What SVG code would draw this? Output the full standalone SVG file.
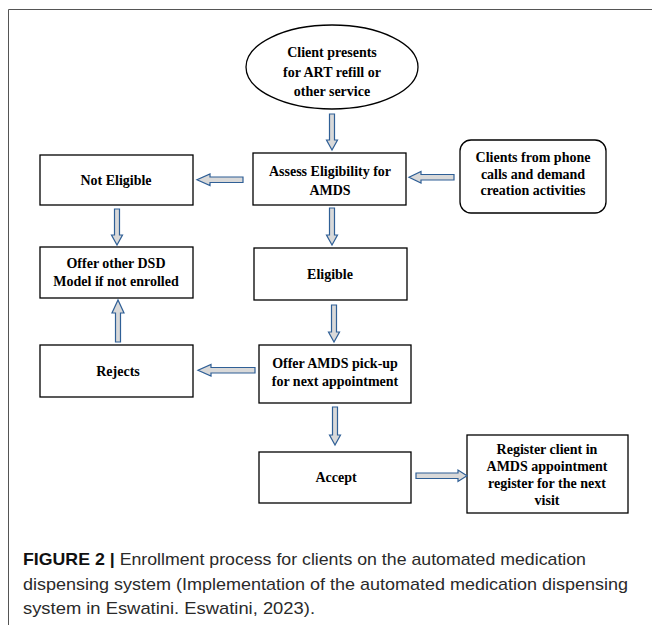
<svg xmlns="http://www.w3.org/2000/svg" width="652" height="625" viewBox="0 0 652 625">
<style>
.box{fill:#fff;stroke:#000;stroke-width:1.3}
.t{font-family:"Liberation Serif","Times New Roman",serif;font-weight:bold;font-size:14px;fill:#000;text-anchor:middle}
.arr{fill:#d9d9d9;stroke:#2f5f96;stroke-width:1.2;stroke-linejoin:miter}
.cap{font-family:"Liberation Sans",Arial,sans-serif;font-size:17px;fill:#2a2a2a}
</style>
<rect x="0" y="0" width="652" height="625" fill="#fff"/>
<path d="M8.5 625 V9.5 H652" fill="none" stroke="#555" stroke-width="1"/>

<g id="n-client">
<ellipse cx="332" cy="67" rx="86" ry="42" class="box"/>
<text class="t" x="332" y="57">Client presents</text>
<text class="t" x="332" y="77">for ART refill or</text>
<text class="t" x="332" y="96">other service</text>
</g>
<g id="n-assess">
<rect x="253" y="153" width="153" height="52" class="box"/>
<text class="t" x="330" y="176">Assess Eligibility for</text>
<text class="t" x="330" y="195">AMDS</text>
</g>
<g id="n-noteligible">
<rect x="40" y="155" width="153" height="50" class="box"/>
<text class="t" x="116" y="185">Not Eligible</text>
</g>
<g id="n-phone">
<rect x="460" y="140" width="146" height="73" rx="11" class="box"/>
<text class="t" x="533" y="162">Clients from phone</text>
<text class="t" x="533" y="179">calls and demand</text>
<text class="t" x="533" y="195">creation activities</text>
</g>
<g id="n-eligible">
<rect x="254" y="248" width="153" height="52" class="box"/>
<text class="t" x="330" y="279">Eligible</text>
</g>
<g id="n-offerother">
<rect x="40" y="247" width="153" height="51" class="box"/>
<text class="t" x="116" y="268">Offer other DSD</text>
<text class="t" x="116" y="286">Model if not enrolled</text>
</g>
<g id="n-offeramds">
<rect x="259" y="345" width="152" height="58" class="box"/>
<text class="t" x="335" y="368">Offer AMDS pick-up</text>
<text class="t" x="335" y="386">for next appointment</text>
</g>
<g id="n-rejects">
<rect x="40" y="345" width="153" height="52" class="box"/>
<text class="t" x="118" y="376">Rejects</text>
</g>
<g id="n-accept">
<rect x="259" y="452" width="152" height="51" class="box"/>
<text class="t" x="336" y="482">Accept</text>
</g>
<g id="n-register">
<rect x="467" y="435" width="161" height="78" class="box"/>
<text class="t" x="547" y="454">Register client in</text>
<text class="t" x="547" y="471">AMDS appointment</text>
<text class="t" x="547" y="488">register for the next</text>
<text class="t" x="547" y="505">visit</text>
</g>

<g id="connectors">
<polygon class="arr" points="329.5,114 334.5,114 334.5,140 337.5,140 332,150 326.5,140 329.5,140"/>
<polygon class="arr" points="243,177 243,182.5 210,182.5 210,185.5 197,179.8 210,174 210,177"/>
<polygon class="arr" points="454,174.5 454,180 421,180 421,183 409,177.3 421,171.5 421,174.5"/>
<polygon class="arr" points="329.5,208 334.5,208 334.5,235 337.5,235 332,245 326.5,235 329.5,235"/>
<polygon class="arr" points="114.5,209 119.5,209 119.5,235 122.5,235 117,245 111.5,235 114.5,235"/>
<polygon class="arr" points="331.5,305 336.5,305 336.5,332 339.5,332 334,342 328.5,332 331.5,332"/>
<polygon class="arr" points="255,367.5 255,373 211,373 211,376 198,370.3 211,364.5 211,367.5"/>
<polygon class="arr" points="115.5,342 120.5,342 120.5,313 124,313 118,300 112,313 115.5,313"/>
<polygon class="arr" points="332.5,407 337.5,407 337.5,435 340.5,435 335,445 329.5,435 332.5,435"/>
<polygon class="arr" points="416,473 416,478.5 458,478.5 458,481.5 467,475.8 458,470 458,473"/>
</g>

<g id="caption">
<text class="cap" x="23" y="565" textLength="563" lengthAdjust="spacingAndGlyphs"><tspan font-weight="bold" fill="#111">FIGURE 2 |</tspan> Enrollment process for clients on the automated medication</text>
<text class="cap" x="23" y="590" textLength="605" lengthAdjust="spacingAndGlyphs">dispensing system (Implementation of the automated medication dispensing</text>
<text class="cap" x="23" y="614" textLength="292" lengthAdjust="spacingAndGlyphs">system in Eswatini. Eswatini, 2023).</text>
</g>
</svg>
